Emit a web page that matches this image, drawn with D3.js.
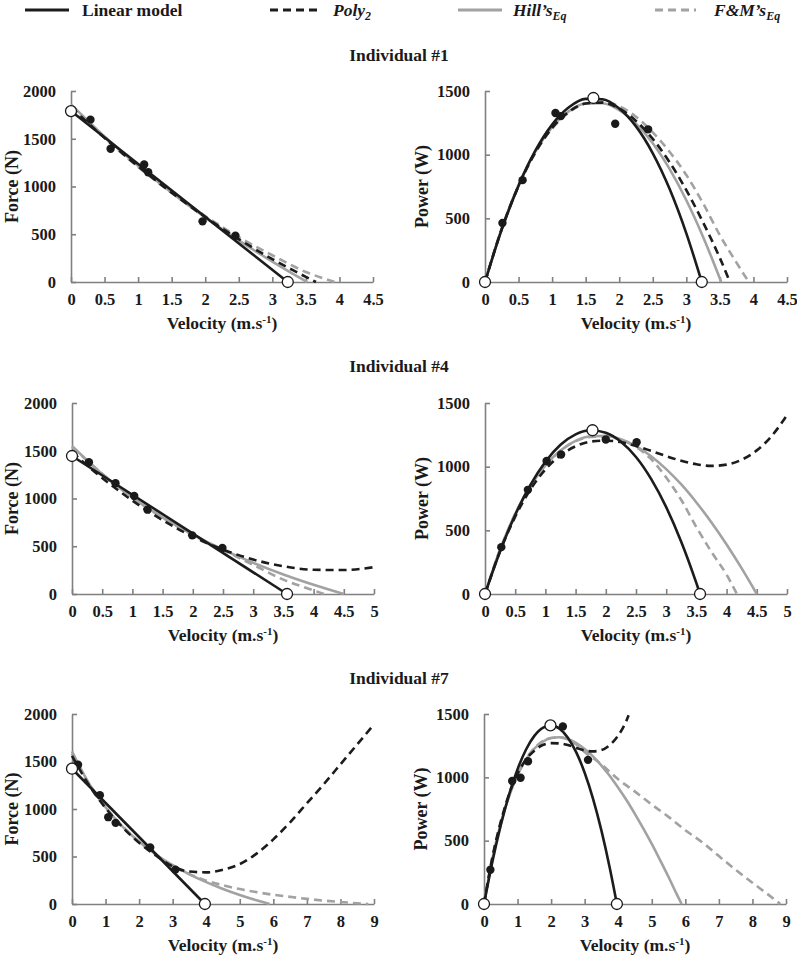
<!DOCTYPE html>
<html><head><meta charset="utf-8">
<script src="https://cdn.jsdelivr.net/npm/d3@7"></script>
<style>
body{margin:0;background:#fff;}
svg text{font-family:"Liberation Serif","Times New Roman",serif;font-weight:bold;fill:#1a1a1a;}
</style></head><body>
<svg id="chart" width="797" height="960"></svg>
<script>
// ---------------- DATA ----------------
const ticksX45 = [0,0.5,1,1.5,2,2.5,3,3.5,4,4.5];
const ticksX5  = [0,0.5,1,1.5,2,2.5,3,3.5,4,4.5,5];
const ticksX9  = [0,1,2,3,4,5,6,7,8,9];
const ticksForce = [0,500,1000,1500,2000];
const ticksPower = [0,500,1000,1500];
const titles = ["Individual #1","Individual #4","Individual #7"];

// ===== Individual #1 =====
const i1ObsVF = [0.29,0.59,1.09,1.15,1.96,2.45];
const i1ObsF  = [1700,1395,1230,1150,635,485];
const i1KeyVF = [0,3.23];
const i1KeyF  = [1790,0];
const i1LinVF = [0,3.23];
const i1LinF  = [1790,0];
const i1PolyVF = [0,0.5,1,1.5,2,2.5,3,3.3,3.65];
const i1PolyF  = [1830,1509,1211,935,681,449,240,126,0];
const i1HillVF = [0,0.5,1,1.5,2,2.5,3,3.25,3.52];
const i1HillF  = [1860,1524,1216,935,675,436,214,109,0];
const i1FmVF = [0,0.5,1,1.5,2,2.5,3,3.5,3.93];
const i1FmF  = [1850,1510,1205,935,690,470,280,105,0];

const i1ObsVP = [0.26,0.56,1.05,1.13,1.94,2.43];
const i1ObsP  = [464,800,1327,1303,1243,1199];
const i1KeyVP = [0,1.615,3.23];
const i1KeyP  = [0,1445,0];
const i1LinVP = [0,0.25,0.5,0.75,1,1.25,1.5,1.75,2,2.25,2.5,2.75,3,3.23];
const i1LinP  = [0,413,756,1031,1236,1372,1438,1435,1363,1222,1011,732,382,0];
const i1PolyVP = [0,0.25,0.5,0.75,1,1.25,1.5,1.75,2,2.25,2.5,2.75,3,3.25,3.5,3.65];
const i1PolyP  = [0,417,755,1018,1211,1337,1402,1409,1362,1265,1124,941,721,468,188,0];
const i1HillVP = [0,0.25,0.5,0.75,1,1.25,1.5,1.75,2,2.25,2.5,2.75,3,3.25,3.52];
const i1HillP  = [0,422,762,1025,1216,1341,1402,1404,1350,1244,1090,888,642,354,0];
const i1FmVP = [0,0.25,0.5,0.75,1,1.25,1.5,1.75,2,2.25,2.5,2.75,3,3.25,3.5,3.75,3.93];
const i1FmP  = [0,419,755,1016,1205,1331,1402,1417,1380,1298,1175,1023,840,617,367,150,0];

// ===== Individual #4 =====
const i4ObsVF = [0.28,0.72,1.03,1.25,1.99,2.49];
const i4ObsF  = [1379,1159,1026,883,614,482];
const i4KeyVF = [0,3.56];
const i4KeyF  = [1445,0];
const i4LinVF = [0,3.56];
const i4LinF  = [1445,0];
const i4PolyVF = [0,0.5,1,1.5,2,2.5,3,3.5,4,4.5,5];
const i4PolyF  = [1487,1215,978,773,602,465,361,291,254,251,281];
const i4HillVF = [0,0.5,1,1.5,2,2.5,3,3.5,4,4.5];
const i4HillF  = [1550,1256,1010,801,621,464,327,205,97,0];
const i4FmVF = [0,0.5,1,1.5,2,2.5,3,3.5,4,4.17];
const i4FmF  = [1540,1260,1010,800,618,462,305,150,38,0];

const i4ObsVP = [0.27,0.71,1.02,1.26,2.0,2.51];
const i4ObsP  = [368,818,1045,1095,1213,1192];
const i4KeyVP = [0,1.78,3.56];
const i4KeyP  = [0,1286,0];
const i4LinVP = [0,0.25,0.5,0.75,1,1.25,1.5,1.75,2,2.25,2.5,2.75,3,3.25,3.5,3.56];
const i4LinP  = [0,336,621,855,1039,1172,1254,1286,1266,1196,1076,904,682,409,85,0];
const i4PolyVP = [0,0.25,0.5,0.75,1,1.25,1.5,1.75,2,2.25,2.5,2.75,3,3.25,3.5,3.75,4,4.25,4.5,4.75,5];
const i4PolyP  = [0,337,607,819,978,1089,1160,1197,1204,1193,1163,1124,1083,1046,1019,1006,1016,1055,1128,1243,1405];
const i4HillVP = [0,0.25,0.5,0.75,1,1.25,1.5,1.75,2,2.25,2.5,2.75,3,3.25,3.5,3.75,4,4.25,4.5];
const i4HillP  = [0,349,628,846,1010,1127,1202,1239,1242,1215,1161,1082,981,860,719,562,389,201,0];
const i4FmVP = [0,0.25,0.5,0.75,1,1.25,1.5,1.75,2,2.25,2.5,2.75,3,3.25,3.5,3.75,4,4.17];
const i4FmP  = [0,349,630,848,1010,1125,1200,1234,1236,1211,1155,1059,915,738,525,330,152,0];

// ===== Individual #7 =====
const i7ObsVF = [0.18,0.83,1.08,1.30,2.33,3.08];
const i7ObsF  = [1466,1146,914,854,594,362];
const i7KeyVF = [0,3.96];
const i7KeyF  = [1424,0];
const i7LinVF = [0,3.96];
const i7LinF  = [1424,0];
const i7PolyVF = [0,0.5,1,1.5,2,2.5,3,3.5,4,4.5,5,5.5,6,6.5,7,7.5,8,8.5,9];
const i7PolyF  = [1560,1255,1010,810,645,510,395,342,333,360,420,530,680,860,1060,1260,1470,1680,1890];
const i7HillVF = [0,0.5,1,1.5,2,2.5,3,3.5,4,4.5,5,5.5,5.89];
const i7HillF  = [1606,1273,1018,817,655,521,408,312,230,158,95,39,0];
const i7FmVF = [0,0.5,1,1.5,2,2.5,3,3.5,4,4.5,5,5.5,6,6.5,7,7.5,8,8.5,8.83];
const i7FmF  = [1580,1270,1020,820,655,520,400,315,246,197,157,125,97,75,54,36,21,8,0];

const i7ObsVP = [0.19,0.84,1.09,1.31,2.35,3.10];
const i7ObsP  = [270,971,997,1127,1402,1138];
const i7KeyVP = [0,1.98,3.96];
const i7KeyP  = [0,1410,0];
const i7LinVP = [0,0.25,0.5,0.75,1,1.25,1.5,1.75,2,2.25,2.5,2.75,3,3.25,3.5,3.75,3.96];
const i7LinP  = [0,334,622,866,1064,1218,1327,1391,1410,1384,1313,1197,1036,830,579,283,0];
const i7PolyVP = [0,0.25,0.5,0.75,1,1.25,1.5,1.75,2,2.25,2.5,2.75,3,3.25,3.5,3.75,4,4.25,4.31];
const i7PolyP  = [0,370,650,870,1030,1140,1210,1255,1270,1268,1255,1232,1212,1205,1215,1255,1330,1450,1490];
const i7HillVP = [0,0.25,0.5,0.75,1,1.25,1.5,1.75,2,2.25,2.5,2.75,3,3.25,3.5,3.75,4,4.25,4.5,4.75,5,5.25,5.5,5.75,5.89];
const i7HillP  = [0,357,636,853,1018,1140,1226,1281,1310,1316,1302,1271,1224,1165,1093,1011,918,819,710,595,474,345,213,74,0];
const i7FmVP = [0,0.25,0.5,0.75,1,1.25,1.5,1.75,2,2.25,2.5,2.75,3,3.5,4,4.5,5,5.5,6,6.5,7,7.5,8,8.5,8.83];
const i7FmP  = [0,355,635,855,1020,1144,1230,1286,1310,1316,1300,1260,1200,1103,984,887,785,688,582,488,378,270,168,68,0];

// ---------------- LAYOUT / STYLE ----------------
const BLACK = "#1c1c1c", GREY = "#a2a2a2", AXIS = "#808080";
const FONT = '"Liberation Serif","Times New Roman",serif';
const style = {
  fm:   {color: GREY,  dash: "8,5"},
  hill: {color: GREY,  dash: null},
  poly: {color: BLACK, dash: "8,5"},
  lin:  {color: BLACK, dash: null}
};
const PW = 302;
const rows = [{top: 91, bottom: 282, titleY: 55}, {top: 403, bottom: 594, titleY: 366}, {top: 714, bottom: 904, titleY: 678}];
const zip = (a, b) => a.map((v, i) => [v, b[i]]);

const panels = [
  {row:0, left:71,  xMax:4.5, xTicks:ticksX45, yMax:2000, yTicks:ticksForce, yTitle:"Force (N)", yTitleX:12,
   curves:[["fm",i1FmVF,i1FmF],["hill",i1HillVF,i1HillF],["poly",i1PolyVF,i1PolyF],["lin",i1LinVF,i1LinF]],
   obs:[i1ObsVF,i1ObsF], keys:[i1KeyVF,i1KeyF]},
  {row:0, left:485, xMax:4.5, xTicks:ticksX45, yMax:1500, yTicks:ticksPower, yTitle:"Power (W)", yTitleX:422,
   curves:[["fm",i1FmVP,i1FmP],["hill",i1HillVP,i1HillP],["poly",i1PolyVP,i1PolyP],["lin",i1LinVP,i1LinP]],
   obs:[i1ObsVP,i1ObsP], keys:[i1KeyVP,i1KeyP]},
  {row:1, left:72,  xMax:5, xTicks:ticksX5, yMax:2000, yTicks:ticksForce, yTitle:"Force (N)", yTitleX:12,
   curves:[["fm",i4FmVF,i4FmF],["hill",i4HillVF,i4HillF],["poly",i4PolyVF,i4PolyF],["lin",i4LinVF,i4LinF]],
   obs:[i4ObsVF,i4ObsF], keys:[i4KeyVF,i4KeyF]},
  {row:1, left:485, xMax:5, xTicks:ticksX5, yMax:1500, yTicks:ticksPower, yTitle:"Power (W)", yTitleX:422,
   curves:[["fm",i4FmVP,i4FmP],["hill",i4HillVP,i4HillP],["poly",i4PolyVP,i4PolyP],["lin",i4LinVP,i4LinP]],
   obs:[i4ObsVP,i4ObsP], keys:[i4KeyVP,i4KeyP]},
  {row:2, left:72,  xMax:9, xTicks:ticksX9, yMax:2000, yTicks:ticksForce, yTitle:"Force (N)", yTitleX:12,
   curves:[["fm",i7FmVF,i7FmF],["hill",i7HillVF,i7HillF],["poly",i7PolyVF,i7PolyF],["lin",i7LinVF,i7LinF]],
   obs:[i7ObsVF,i7ObsF], keys:[i7KeyVF,i7KeyF]},
  {row:2, left:484, xMax:9, xTicks:ticksX9, yMax:1500, yTicks:ticksPower, yTitle:"Power (W)", yTitleX:421,
   curves:[["fm",i7FmVP,i7FmP],["hill",i7HillVP,i7HillP],["poly",i7PolyVP,i7PolyP],["lin",i7LinVP,i7LinP]],
   obs:[i7ObsVP,i7ObsP], keys:[i7KeyVP,i7KeyP]}
];

const svg = d3.select("#chart");
svg.append("rect").attr("width",797).attr("height",960).attr("fill","#fff");

// ---------------- LEGEND ----------------
const legend = [
  {key:"lin",  x1:25,  x2:69,  tx:82,  main:"Linear model", sub:null, italic:false},
  {key:"poly", x1:270, x2:319, tx:333, main:"Poly", sub:"2", italic:true},
  {key:"hill", x1:458, x2:502, tx:513, main:"Hill\u2019s", sub:"Eq", italic:true},
  {key:"fm",   x1:655, x2:696, tx:714, main:"F&M\u2019s", sub:"Eq", italic:true}
];
const lg = svg.append("g");
legend.forEach(d => {
  lg.append("line").attr("x1",d.x1).attr("x2",d.x2).attr("y1",10).attr("y2",10)
    .attr("stroke",style[d.key].color).attr("stroke-width",3)
    .attr("stroke-dasharray",style[d.key].dash);
  const t = lg.append("text").attr("x",d.tx).attr("y",16).attr("font-size",17.5)
    .attr("font-style", d.italic ? "italic" : "normal");
  t.append("tspan").text(d.main);
  if (d.sub) t.append("tspan").attr("dy",4).attr("font-size",12).text(d.sub);
});

// ---------------- TITLES ----------------
rows.forEach((r,i) => {
  svg.append("text").attr("x",399).attr("y",r.titleY).attr("text-anchor","middle")
    .attr("dominant-baseline","central").attr("font-size",17.5).text(titles[i]);
});

// ---------------- PANELS ----------------
panels.forEach(p => {
  const r = rows[p.row];
  const x = d3.scaleLinear().domain([0,p.xMax]).range([p.left, p.left+PW]);
  const y = d3.scaleLinear().domain([0,p.yMax]).range([r.bottom, r.top]);
  const g = svg.append("g");

  const xa = g.append("g").attr("transform",`translate(0,${r.bottom})`)
    .call(d3.axisBottom(x).tickValues(p.xTicks).tickSize(-5).tickSizeOuter(0).tickPadding(11)
      .tickFormat(d3.format("~g")));
  const ya = g.append("g").attr("transform",`translate(${p.left},0)`)
    .call(d3.axisLeft(y).tickValues(p.yTicks).tickSize(-5).tickSizeOuter(0).tickPadding(15)
      .tickFormat(d3.format("d")));
  [xa,ya].forEach(a => {
    a.attr("font-family",FONT).attr("font-size",16.5).attr("font-weight","bold").attr("color",AXIS);
    a.selectAll("path,line").attr("stroke",AXIS).attr("stroke-width",1.6);
    a.selectAll("text").attr("fill","#1a1a1a");
  });

  // axis titles
  const xt = g.append("text").attr("x",p.left+PW/2).attr("y",r.bottom+47)
    .attr("text-anchor","middle").attr("font-size",17.5);
  xt.append("tspan").text("Velocity (m.s");
  xt.append("tspan").attr("dy",-6).attr("font-size",11).text("-1");
  xt.append("tspan").attr("dy",6).text(")");
  g.append("text").attr("transform",`translate(${p.yTitleX},${(r.top+r.bottom)/2}) rotate(-90)`)
    .attr("text-anchor","middle").attr("dominant-baseline","central").attr("font-size",18).text(p.yTitle);

  // curves
  const line = d3.line().x(d=>x(d[0])).y(d=>y(d[1])).curve(d3.curveMonotoneX);
  p.curves.forEach(([k,vs,ys]) => {
    g.append("path").attr("d",line(zip(vs,ys))).attr("fill","none")
      .attr("stroke",style[k].color).attr("stroke-width",2.6)
      .attr("stroke-dasharray",style[k].dash);
  });

  // observed points
  g.selectAll(null).data(zip(p.obs[0],p.obs[1])).join("circle")
    .attr("cx",d=>x(d[0])).attr("cy",d=>y(d[1])).attr("r",4.2).attr("fill","#1a1a1a");
  // key (open) points
  g.selectAll(null).data(zip(p.keys[0],p.keys[1])).join("circle")
    .attr("cx",d=>x(d[0])).attr("cy",d=>y(d[1])).attr("r",5.5)
    .attr("fill","#fff").attr("stroke","#1a1a1a").attr("stroke-width",1.3);
});
</script>
</body></html>
